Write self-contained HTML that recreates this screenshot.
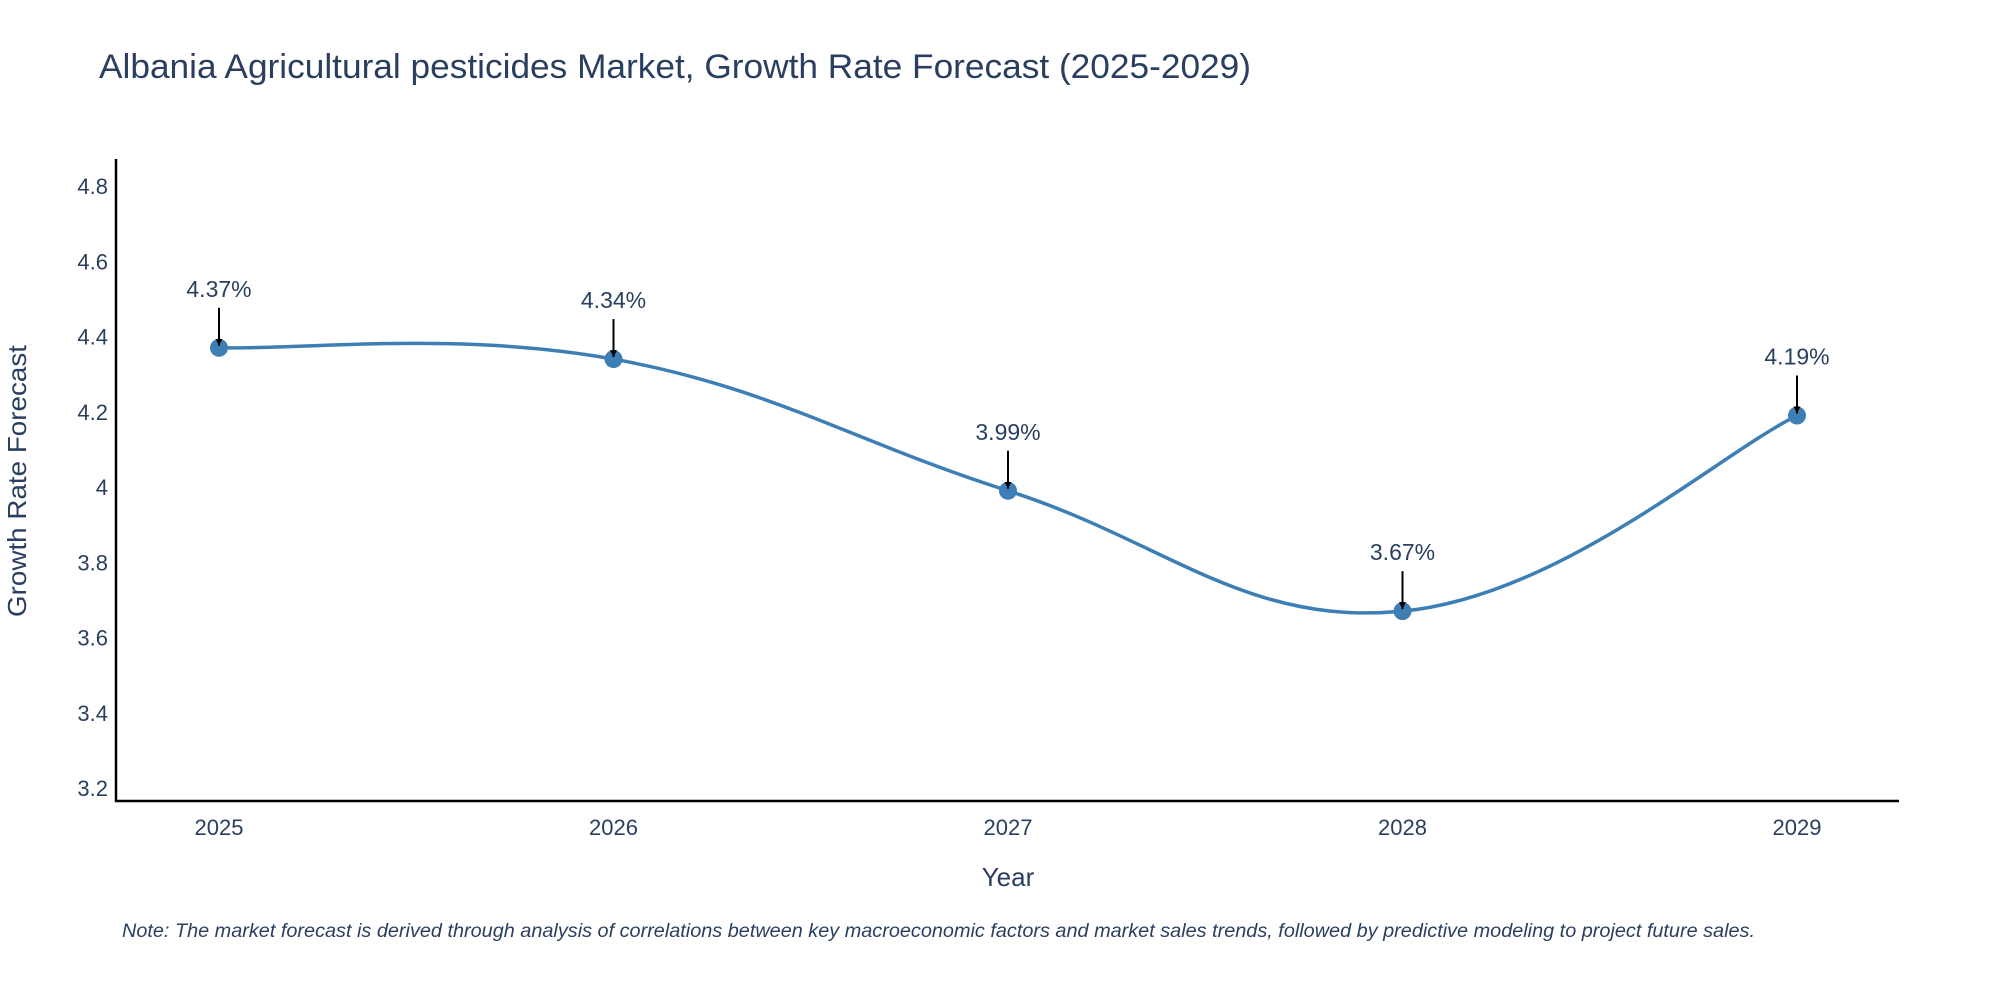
<!DOCTYPE html>
<html><head><meta charset="utf-8"><style>
body{margin:0;background:#fff;}
svg{font-family:"Liberation Sans",sans-serif;}
</style></head><body>
<svg id="chart" width="2000" height="1000" viewBox="0 0 2000 1000">
<text x="99" y="78" font-size="34" fill="#2a3f5f" textLength="1152" lengthAdjust="spacingAndGlyphs">Albania Agricultural pesticides Market, Growth Rate Forecast (2025-2029)</text>
<g id="yticks"></g>
<g id="xticks"></g>
<line x1="116" y1="159" x2="116" y2="802" stroke="#000" stroke-width="2.5"/>
<line x1="115" y1="801" x2="1899" y2="801" stroke="#000" stroke-width="2.5"/>
<path id="line" fill="none" stroke="#3d7fb5" stroke-width="3.5"/>
<g id="points"></g>
<text x="26" y="481" font-size="26" fill="#2a3f5f" text-anchor="middle" transform="rotate(-90 26 481)" textLength="272" lengthAdjust="spacingAndGlyphs">Growth Rate Forecast</text>
<text x="1008" y="886" font-size="26" fill="#2a3f5f" text-anchor="middle">Year</text>
<text x="122" y="937" font-size="19" font-style="italic" fill="#2a3f5f" textLength="1633" lengthAdjust="spacingAndGlyphs">Note: The market forecast is derived through analysis of correlations between key macroeconomic factors and market sales trends, followed by predictive modeling to project future sales.</text>
<defs><marker id="ah" viewBox="0 0 10 10" refX="10" refY="5" markerWidth="7" markerHeight="7" markerUnits="userSpaceOnUse" orient="auto"><path d="M0,0L10,5L0,10z" fill="#000"/></marker></defs>
</svg>
<script>
const years=[2025,2026,2027,2028,2029];
const values=[4.37,4.34,3.99,3.67,4.19];
const labels=["4.37%","4.34%","3.99%","3.67%","4.19%"];
const yTicks=[3.2,3.4,3.6,3.8,4,4.2,4.4,4.6,4.8];
const NS="http://www.w3.org/2000/svg";
function xs(v){return 219+(v-2025)*(1797-219)/4;}
function ys(v){return 788-(v-3.2)*(788-186)/1.6;}
function mk(tag,attrs,parent){const e=document.createElementNS(NS,tag);for(const k in attrs)e.setAttribute(k,attrs[k]);parent.appendChild(e);return e;}
const yg=document.getElementById('yticks');
yTicks.forEach(t=>{const e=mk('text',{x:108,y:ys(t)+8,'font-size':22,fill:'#2a3f5f','text-anchor':'end'},yg);e.textContent=String(t);

});
const xg=document.getElementById('xticks');
years.forEach(t=>{const e=mk('text',{x:xs(t),y:835,'font-size':22,fill:'#2a3f5f','text-anchor':'middle'},xg);e.textContent=String(t);

});
const P=years.map((y,i)=>[xs(y),ys(values[i])]);
let d='M'+P[0][0]+','+P[0][1];const s=0.2;
for(let i=0;i<P.length-1;i++){const p0=P[Math.max(0,i-1)],p1=P[i],p2=P[i+1],p3=P[Math.min(P.length-1,i+2)];
const c1=[p1[0]+(p2[0]-p0[0])*s,p1[1]+(p2[1]-p0[1])*s];
const c2=[p2[0]-(p3[0]-p1[0])*s,p2[1]-(p3[1]-p1[1])*s];
d+=' C'+c1[0]+','+c1[1]+' '+c2[0]+','+c2[1]+' '+p2[0]+','+p2[1];}
document.getElementById('line').setAttribute('d',d);
const pg=document.getElementById('points');
P.forEach((p,i)=>{
const c=mk('circle',{cx:p[0],cy:p[1],r:9,fill:'#3d7fb5'},pg);


const a=mk('line',{x1:p[0],y1:p[1]-40,x2:p[0],y2:p[1]-2,stroke:'#000','stroke-width':2,'marker-end':'url(#ah)'},pg);


const t=mk('text',{x:p[0],y:p[1]-51,'font-size':23,fill:'#2a3f5f','text-anchor':'middle'},pg);t.textContent=labels[i];


});
</script>
</body></html>
